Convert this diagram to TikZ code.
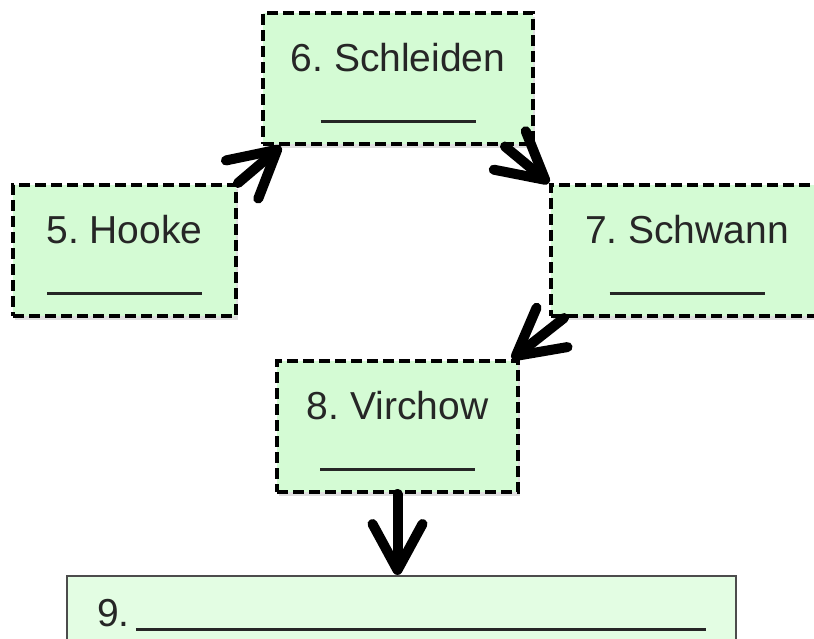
\documentclass[tikz,border=0pt]{standalone}
\usepackage{fontspec}
\setmainfont{Liberation Sans}
\frenchspacing
\usetikzlibrary{arrows.meta,shadows}
\definecolor{boxgreen}{HTML}{D4FBD4}
\definecolor{lastgreen}{HTML}{E3FDE3}
\newcommand{\answerline}[1]{\rule{#1}{3pt}}
\tikzset{
  namebox/.style={draw, line width=4pt, dash pattern=on 11pt off 5pt,
    fill=boxgreen, minimum height=131pt, inner sep=0pt, align=center,
    font=\fontsize{39}{47}\selectfont, text=black!85,
    drop shadow={shadow xshift=2pt, shadow yshift=-4pt, opacity=.25}},
  lastbox/.style={draw=black!70, line width=2pt, fill=lastgreen,
    minimum width=669pt, minimum height=78pt, inner sep=0pt,
    font=\fontsize{39}{47}\selectfont, text=black!85},
  arr/.style={line width=10pt, line cap=round,
    -{Straight Barb[length=46pt, width=50pt, round]}}
}
\begin{document}
\begin{tikzpicture}[x=1pt, y=-1pt]
          \clip (0,0) rectangle (814,639);
          \node[namebox, minimum width=270pt] (6) at (398,79) {\rule{0pt}{37pt}6. Schleiden\\[5pt]\answerline{155pt}};
          \node[namebox, minimum width=223pt] (5) at (124.5,250.5) {\rule{0pt}{37pt}5. Hooke\\[5pt]\answerline{155pt}};
          \node[namebox, minimum width=272pt] (7) at (687,250.5) {\rule{0pt}{37pt}7. Schwann\\[5pt]\answerline{155pt}};
          \node[namebox, minimum width=241pt] (8) at (397.5,426.5) {\rule{0pt}{37pt}8. Virchow\\[5pt]\answerline{155pt}};
          \node[lastbox] (9) at (401.5,615) {9.\hspace{6pt}\rule[-4pt]{570pt}{3pt}};

          \draw[arr] (5.north east) -- ([xshift=20pt]6.south west);
          \draw[arr] ([xshift=-30pt]6.south east) -- (7.north west);
          \draw[arr] ([xshift=15pt]7.south west) -- ([xshift=-8pt]8.north east);
          \draw[arr] (8.south) -- (8.south |- 9.north);
    \end{tikzpicture}
\end{document}
